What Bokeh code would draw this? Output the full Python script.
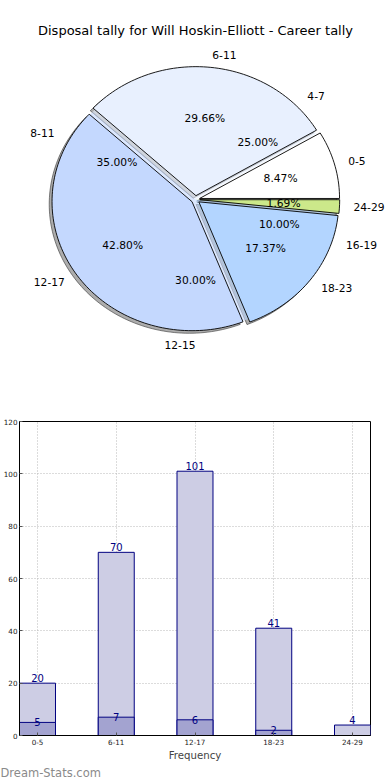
import numpy as np
from bokeh.plotting import figure
from bokeh.models import Range1d, ColumnDataSource, FixedTicker, Label, Title
from bokeh.embed import file_html
from bokeh.resources import INLINE

# ---------------- data ----------------
title_text = "Disposal tally for Will Hoskin-Elliott - Career tally"
categories = ["0-5", "6-11", "12-17", "18-23", "24-29"]
totals = [20, 70, 101, 41, 4]
inner_categories = ["4-7", "8-11", "12-15", "16-19"]
inner_counts = [5, 7, 6, 2]
bar_inner = [5, 7, 6, 2, 0]
y_ticks = [0, 20, 40, 60, 80, 100, 120]
x_axis_label = "Frequency"
watermark = "Dream-Stats.com"

# ---------------- style ----------------
pie_colors = ["#ffffff", "#e8f0fe", "#c4d8fe", "#b3d5ff", "#cce88a"]
FONT = "DejaVu Sans"
W = 390
PIE_H = 400
BAR_H = 379
cx, cy = 195, 199          # pie centre in canvas px (from top-left)
rx, ry = 140, 129          # pie radii in px
explode = 0.03
lab_dist, pct_dist = 1.1, 0.6

# ---------------- pie ----------------
p1 = figure(width=W, height=PIE_H, output_backend="svg", toolbar_location=None,
            x_range=Range1d(-cx / rx, (W - cx) / rx),
            y_range=Range1d(-(PIE_H - cy) / ry, cy / ry),
            min_border=0, x_axis_type=None, y_axis_type=None)
p1.outline_line_color = None
p1.background_fill_color = "white"


def wedges(counts, expl):
    c = np.asarray(counts, dtype=float)
    frac = c / c.sum()
    ends = np.cumsum(frac) * 2 * np.pi
    starts = np.concatenate([[0.0], ends[:-1]])
    xs, ys, mids = [], [], []
    for a0, a1 in zip(starts, ends):
        m = (a0 + a1) / 2
        ox, oy = expl * np.cos(m), expl * np.sin(m)
        n = max(int((a1 - a0) / (2 * np.pi) * 240), 3)
        t = np.linspace(a0, a1, n)
        xs.append(list(np.concatenate([[ox], ox + np.cos(t), [ox]])))
        ys.append(list(np.concatenate([[oy], oy + np.sin(t), [oy]])))
        mids.append(m)
    return xs, ys, np.array(mids), frac


oxs, oys, omids, ofrac = wedges(totals, explode)
bxs, bys, _, _ = wedges(totals, 0.0)
# shadow
p1.patches(xs=[list(np.array(x) - 0.02) for x in oxs],
           ys=[list(np.array(y) - 0.02) for y in oys],
           fill_color="#333333", fill_alpha=0.4, line_color="#333333", line_alpha=0.6)
# base layer showing through the exploded gaps
p1.patches(xs=bxs, ys=bys, fill_color=pie_colors, line_color=None, fill_alpha=0.6)
p1.patches(xs=oxs, ys=oys, fill_color=pie_colors, line_color="black", line_width=0.9)

_, _, imids, ifrac = wedges(inner_counts, explode)


def add_texts(mids, labels, fracs):
    lx = (lab_dist + explode) * np.cos(mids)
    ly = (lab_dist + explode) * np.sin(mids)
    px = (pct_dist + explode) * np.cos(mids)
    py = (pct_dist + explode) * np.sin(mids)
    left = lx > 0
    for mask, al in ((left, "left"), (~left, "right")):
        src = ColumnDataSource(dict(x=lx[mask], y=ly[mask],
                                    t=[l for l, k in zip(labels, mask) if k]))
        p1.text(x="x", y="y", text="t", source=src, text_align=al,
                text_baseline="middle", text_font={"value": FONT},
                text_font_size="10.7px", text_color="black")
    src = ColumnDataSource(dict(x=px, y=py, t=["%.2f%%" % (f * 100) for f in fracs]))
    p1.text(x="x", y="y", text="t", source=src, text_align="center",
            text_baseline="middle", text_font={"value": FONT},
            text_font_size="10.7px", text_color="black")


add_texts(omids, categories, ofrac)
add_texts(imids, inner_categories, ifrac)

p1.add_layout(Label(x=0, y=(cy - 30) / ry, text=title_text, text_align="center",
                    text_baseline="middle", text_font=FONT, text_font_size="13px",
                    text_color="black"))

# ---------------- bars ----------------
xs = list(range(len(categories)))
bw = 0.457
p2 = figure(width=W, height=BAR_H, output_backend="svg", toolbar_location=None,
            x_range=Range1d(-bw / 2, len(categories) - 1 + bw / 2),
            y_range=Range1d(0, 120),
            min_border_left=19, min_border_right=20, min_border_top=21,
            min_border_bottom=39)
p2.outline_line_color = "black"
p2.outline_line_width = 1
p2.outline_line_alpha = 1

p2.vbar(x=xs, top=totals, width=bw, fill_color="#cdcde4",
        line_color="#000080", line_width=1)
nz = [i for i, v in enumerate(bar_inner) if v > 0]
p2.vbar(x=[xs[i] for i in nz], top=[bar_inner[i] for i in nz], width=bw,
        fill_color="#a3a3d0", line_color="#000080", line_width=1)

src_t = ColumnDataSource(dict(x=xs, y=totals, t=[str(v) for v in totals]))
p2.text(x="x", y="y", text="t", source=src_t, text_align="center",
        text_baseline="bottom", y_offset=-1, text_font={"value": FONT},
        text_font_size="10px", text_color="#000080")
src_i = ColumnDataSource(dict(x=[xs[i] for i in nz], y=[bar_inner[i] for i in nz],
                              t=[str(bar_inner[i]) for i in nz]))
p2.text(x="x", y="y", text="t", source=src_i, text_align="center",
        text_baseline="middle", text_font={"value": FONT},
        text_font_size="10px", text_color="#000080")

p2.xaxis.ticker = FixedTicker(ticks=xs)
p2.xaxis.major_label_overrides = {i: c for i, c in zip(xs, categories)}
p2.yaxis.ticker = FixedTicker(ticks=y_ticks)
p2.xaxis.axis_label = x_axis_label
p2.xaxis.axis_label_text_font = FONT
p2.xaxis.axis_label_text_font_style = "normal"
p2.xaxis.axis_label_text_font_size = "10.2px"
p2.xaxis.axis_label_standoff = 2

for ax in (p2.xaxis, p2.yaxis):
    ax.major_label_text_font = FONT
    ax.major_label_text_font_size = "7.2px"
    ax.major_label_text_color = "#222222"
    ax.major_label_standoff = 2
    ax.major_tick_in = 3
    ax.major_tick_out = 0
    ax.minor_tick_line_color = None
    ax.axis_line_color = "black"
    ax.major_tick_line_color = "#555555"
p2.xaxis.major_label_standoff = 3

p2.xgrid.ticker = FixedTicker(ticks=xs)
p2.ygrid.ticker = FixedTicker(ticks=y_ticks)
p2.grid.grid_line_color = "#b8b8b8"
p2.grid.grid_line_dash = "1 2"
p2.grid.grid_line_width = 1

p2.add_layout(Title(text=watermark, align="left", offset=-19, standoff=0,
                    text_font=FONT, text_font_size="11.5px", text_font_style="normal",
                    text_color="#8a8a8a"), "below")

# two separate roots, stacked (avoids frame alignment of a column layout)
open("out.html", "w").write(file_html([p1, p2], INLINE))
